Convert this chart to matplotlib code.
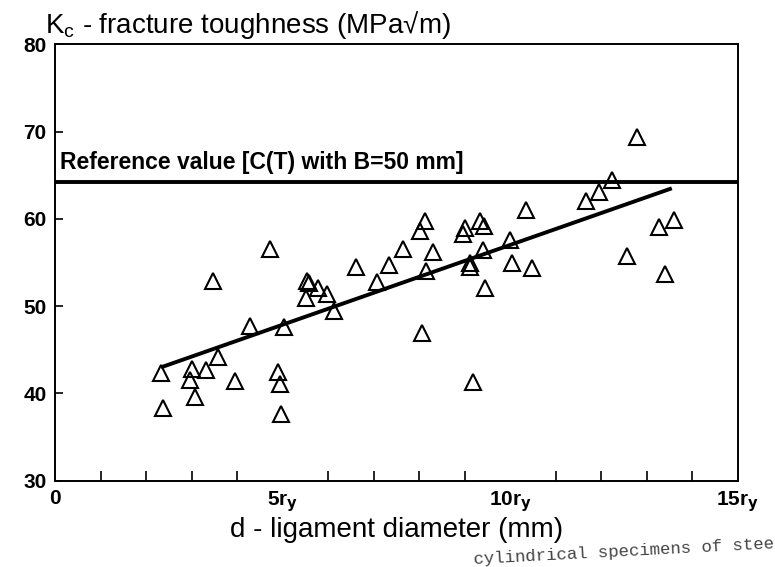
import matplotlib
matplotlib.use('Agg')
import matplotlib.pyplot as plt

plt.rcParams['font.family'] = ['Liberation Sans', 'DejaVu Sans']

# measured specimens: ligament diameter (in r_y) and K_c (MPa sqrt m)
d_ry = [2.33, 2.37, 3.01, 2.96, 3.32, 3.07, 3.58, 3.96, 3.47, 4.72,
        4.29, 4.90, 4.95, 4.97, 5.02, 5.54, 5.58, 5.77, 5.98, 5.52,
        6.13, 6.61, 7.07, 7.33, 7.64, 8.06, 8.13, 8.01, 8.31, 8.16,
        9.00, 8.97, 9.34, 9.42, 9.11, 9.11, 9.41, 9.45, 9.18, 10.00,
        10.05, 10.47, 10.34, 11.67, 11.94, 12.24, 12.78, 12.56, 13.26, 13.60,
        13.40]
kc = [42.3, 38.3, 42.8, 41.6, 42.7, 39.6, 44.2, 41.4, 52.9, 56.5,
      47.7, 42.5, 41.1, 37.6, 47.6, 52.9, 52.6, 52.1, 51.4, 50.9,
      49.4, 54.5, 52.8, 54.7, 56.5, 46.9, 59.7, 58.6, 56.2, 54.0,
      59.0, 58.3, 59.8, 59.2, 55.0, 54.5, 56.4, 52.1, 41.3, 57.6,
      54.9, 54.4, 61.0, 62.0, 63.1, 64.5, 69.4, 55.7, 59.1, 59.9,
      53.7]

fit_x = [2.33, 13.55]
fit_y = [43.0, 63.5]
ref_value = 64.2

xticks_major = [0, 5, 10, 15]
xtick_labels = ['0', '5r$_\\mathbf{y}$', '10r$_\\mathbf{y}$', '15r$_\\mathbf{y}$']
yticks = [30, 40, 50, 60, 70, 80]

fig = plt.figure(figsize=(7.75, 5.67), dpi=100)
ax = fig.add_axes([0.071, 0.152, 0.881, 0.770])

ax.plot(d_ry, kc, linestyle='none', marker='^', ms=11, mfc='none',
        mec='black', mew=1.5, clip_on=False)
ax.plot(fit_x, fit_y, color='black', lw=2.8, solid_capstyle='butt')
ax.axhline(ref_value, color='black', lw=2.8)
ax.text(0.1, ref_value + 0.9, 'Reference value [C(T) with B=50 mm]',
        fontsize=16.5, fontweight='bold', ha='left', va='bottom')

ax.set_xlim(0, 15)
ax.set_ylim(30, 80)
ax.set_xticks(range(0, 16), minor=True)
ax.set_xticks(xticks_major)
ax.set_xticklabels(xtick_labels, fontsize=15, fontweight='bold')
ax.set_yticks(yticks)
ax.set_yticklabels([str(v) for v in yticks], fontsize=15, fontweight='bold')
ax.tick_params(axis='x', which='both', direction='in', length=7, width=1.2,
               top=False, pad=4)
ax.tick_params(axis='x', which='major', length=0, pad=6)
ax.tick_params(axis='y', direction='in', length=6, width=1.2, right=False, pad=6)
for s in ax.spines.values():
    s.set_linewidth(1.4)

ax.text(-0.015, 1.008, 'K$_\\mathregular{c}$ - fracture toughness (MPa\u221am)',
        transform=ax.transAxes, fontsize=20, ha='left', va='bottom')
ax.set_xlabel('d - ligament diameter (mm)', fontsize=20, labelpad=2)

fig.text(0.61, 0.0, 'cylindrical specimens of stee', family='Liberation Mono',
         fontsize=12.5, color='#444444', rotation=3, ha='left', va='bottom')

fig.savefig('out.png', dpi=100, facecolor='white')
